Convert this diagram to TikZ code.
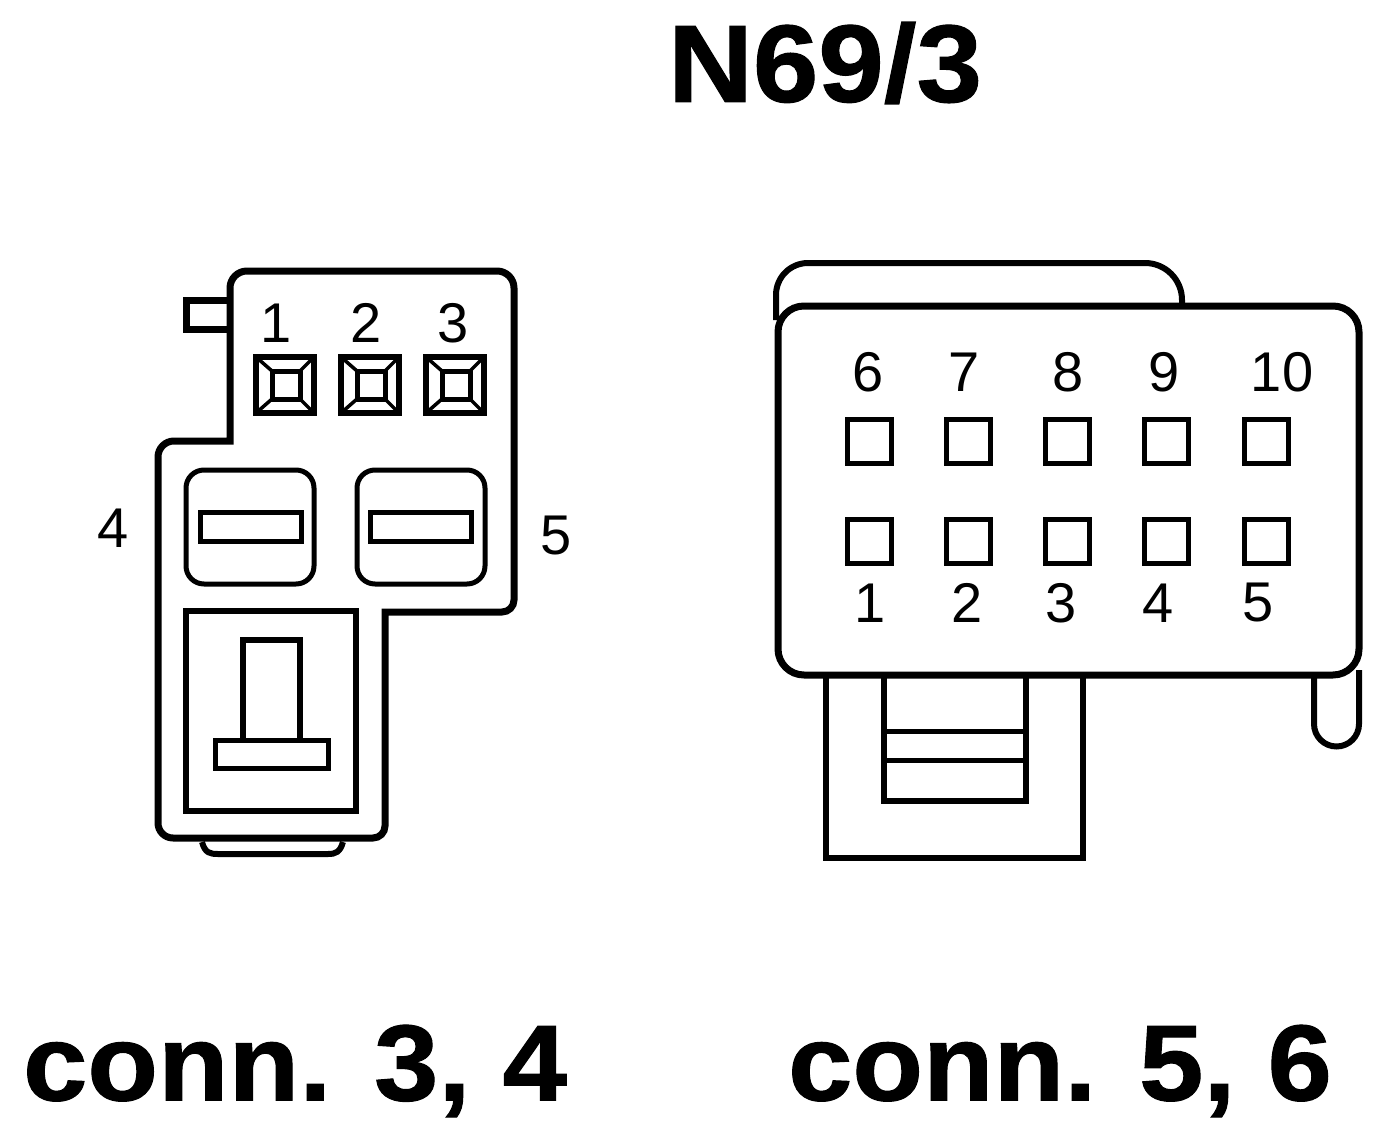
\documentclass[tikz,border=0pt]{standalone}
\usepackage{fontspec}
\setmainfont{Liberation Sans}
\newfontfamily\heavyf[FakeBold=1,FakeStretch=1.07]{Liberation Sans Bold}
\begin{document}
\begin{tikzpicture}[x=1pt,y=-1pt,
  ln/.style={draw=black,line width=5pt,line join=miter},
  lnb/.style={draw=black,line width=7pt,line join=miter},
  lnm/.style={draw=black,line width=6pt,line join=miter},
  ltxt/.style={font=\fontsize{56}{56}\selectfont,inner sep=0pt,anchor=center},
  ttl/.style={font=\fontsize{110}{110}\selectfont\heavyf,inner sep=0pt,anchor=center},
  captxt/.style={font=\fontsize{108}{108}\selectfont\heavyf,inner sep=0pt,anchor=center}]
\useasboundingbox (0,0) rectangle (1392,1134);
\fill[white] (0,0) rectangle (1392,1134);
% left connector
\draw[lnb] (230,300) -- (186,300) -- (186,329) -- (230,329);
\draw[lnm] (202,842) .. controls (205,853) and (210,854) .. (218,854) -- (328,854) .. controls (336,854) and (340,852) .. (343,842);
\draw[lnb,fill=white] (230,288) arc[start angle=180,end angle=270,radius=17] -- (497,271) arc[start angle=270,end angle=360,radius=17] -- (514,600) arc[start angle=0,end angle=90,radius=12] -- (385,612) -- (385,826) arc[start angle=0,end angle=90,radius=12] -- (173,838) arc[start angle=90,end angle=180,radius=15] -- (158,457) arc[start angle=180,end angle=270,radius=16] -- (230,441) -- cycle;
\foreach \x/\n in {256/a,341/b,426/c}{
  \draw[lnm] (\x,357) rectangle ++(58,56);
  \draw[line width=5pt] (\x+16,371) rectangle ++(28,28);
  \draw[line width=3.5pt] (\x,357) -- ++(16,14) (\x+58,357) -- ++(-14,14) (\x,413) -- ++(16,-14) (\x+58,413) -- ++(-14,-14);
}
\draw[ln,rounded corners=18pt] (186,470) rectangle (314,584);
\draw[ln] (200,512) rectangle (301,541);
\draw[ln,rounded corners=18pt] (357,470) rectangle (485,584);
\draw[ln] (370,512) rectangle (471,541);
\draw[lnm] (186,611) rectangle (356,811);
\draw[lnm] (243,740) -- (243,640) -- (300,640) -- (300,740);
\draw[ln] (215,740) rectangle (328,768);
\node[ltxt] (l1) at (276,323) {1};
\node[ltxt] (l2) at (366,323) {2};
\node[ltxt] (l3) at (453,323) {3};
\node[ltxt] (l4) at (113,528) {4};
\node[ltxt] (l5) at (556,536) {5};
% right connector
\draw[lnm] (1314,670) -- (1314,724) arc[start angle=180,end angle=0,radius=22.5] -- (1359,670);
\draw[lnm] (776,320) -- (776,295) arc[start angle=180,end angle=270,radius=32] -- (1145,263) arc[start angle=270,end angle=360,radius=37] -- (1182,310);
\draw[lnm] (826,670) -- (826,858) -- (1083,858) -- (1083,670);
\draw[lnm] (884,670) -- (884,801) -- (1026,801) -- (1026,670);
\draw[ln] (884,731) -- (1026,731) (884,760) -- (1026,760);
\draw[lnb,fill=white,rounded corners=26pt] (778,306) rectangle (1359,675);
\foreach \x in {847,946,1045,1144,1244}{
  \draw[ln] (\x,419) rectangle ++(44,44);
  \draw[ln] (\x,519) rectangle ++(44,44);
}
\foreach \x/\y/\t/\n in {868/372/6/a,964/372/7/b,1068/372/8/c,1164/372/9/d,1282/372/10/e,870/603/1/f,967/603/2/g,1061/603/3/h,1158/603/4/i,1258/603/5/j}{
  \node[ltxt] (r\n) at (\x,\y) {\t};
}
\node[ttl] (title) at (825,63) {N69/3};
\node[captxt] (c1) at (295,1071) {conn. 3, 4};
\node[captxt] (c2) at (1060,1071) {conn. 5, 6};
\end{tikzpicture}
\end{document}
